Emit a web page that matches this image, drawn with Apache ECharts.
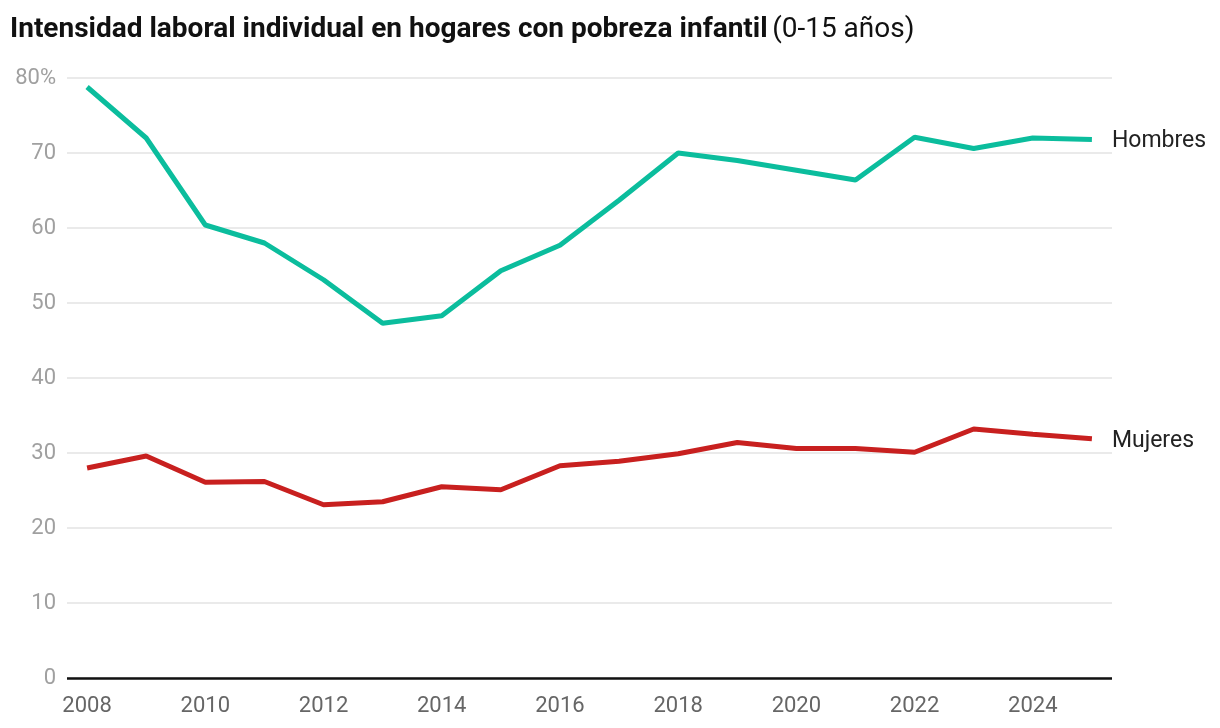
<!DOCTYPE html>
<html><head><meta charset="utf-8">
<script src="https://cdn.jsdelivr.net/npm/echarts@6/dist/echarts.min.js"></script>
<style>html,body{margin:0;padding:0;background:#fff}#c{width:1220px;height:728px}</style>
</head><body><div id="c"></div>
<script>
const years = [2008,2009,2010,2011,2012,2013,2014,2015,2016,2017,2018,2019,2020,2021,2022,2023,2024,2025];
const hombres = [78.8,72.0,60.4,58.0,53.1,47.3,48.3,54.3,57.7,63.7,70.0,69.0,67.7,66.4,72.1,70.6,72.0,71.8];
const mujeres = [28.0,29.6,26.1,26.2,23.1,23.5,25.5,25.1,28.3,28.9,29.9,31.4,30.6,30.6,30.1,33.2,32.5,31.9];
const xTicks = [2008,2010,2012,2014,2016,2018,2020,2022,2024];

const chart = echarts.init(document.getElementById('c'));
const font = 'Roboto';
chart.setOption({
  animation:false,
  textStyle:{fontFamily:font},
  title:{
    left:5, top:11,
    text:'{b|Intensidad laboral individual en hogares con pobreza infantil} {r|(0-15 años)}',
    textStyle:{rich:{
      b:{fontFamily:font,fontWeight:'bold',fontSize:28,color:'#111'},
      r:{fontFamily:font,fontWeight:'normal',fontSize:28,color:'#111'}
    }}
  },
  grid:{left:67,right:108,top:78,bottom:50,containLabel:false},
  xAxis:{
    type:'value', min:2007.66, max:2025.34,
    axisLine:{show:false},
    axisTick:{show:false},
    splitLine:{show:false},
    axisLabel:{customValues:xTicks,color:'#666',fontSize:22,fontFamily:font,margin:17,formatter:v=>String(v)}
  },
  yAxis:{
    type:'value', min:0, max:80, interval:10,
    axisLine:{show:false}, axisTick:{show:false},
    splitLine:{lineStyle:{color:'#e3e3e3',width:1.5}},
    axisLabel:{color:'#a0a0a0',fontSize:22,fontFamily:font,margin:11,
      formatter:v=>v===80?'80%':String(v)}
  },
  series:[
    {name:'Hombres',type:'line',data:years.map((y,i)=>[y,hombres[i]]),
     showSymbol:false,lineStyle:{color:'#0bbd9d',width:5},itemStyle:{color:'#0bbd9d'},
     endLabel:{show:true,formatter:'Hombres',color:'#222',fontSize:23,fontFamily:font,distance:20,offset:[0,2]}},
    {name:'Mujeres',type:'line',data:years.map((y,i)=>[y,mujeres[i]]),
     showSymbol:false,lineStyle:{color:'#c8201f',width:5},itemStyle:{color:'#c8201f'},
     endLabel:{show:true,formatter:'Mujeres',color:'#222',fontSize:23,fontFamily:font,distance:20,offset:[0,2]},
     markLine:{silent:true,symbol:'none',label:{show:false},
       lineStyle:{color:'#111',width:2.5,type:'solid'},
       data:[[{coord:[2007.66,0]},{coord:[2025.34,0]}]]}}
  ]
});
</script></body></html>
